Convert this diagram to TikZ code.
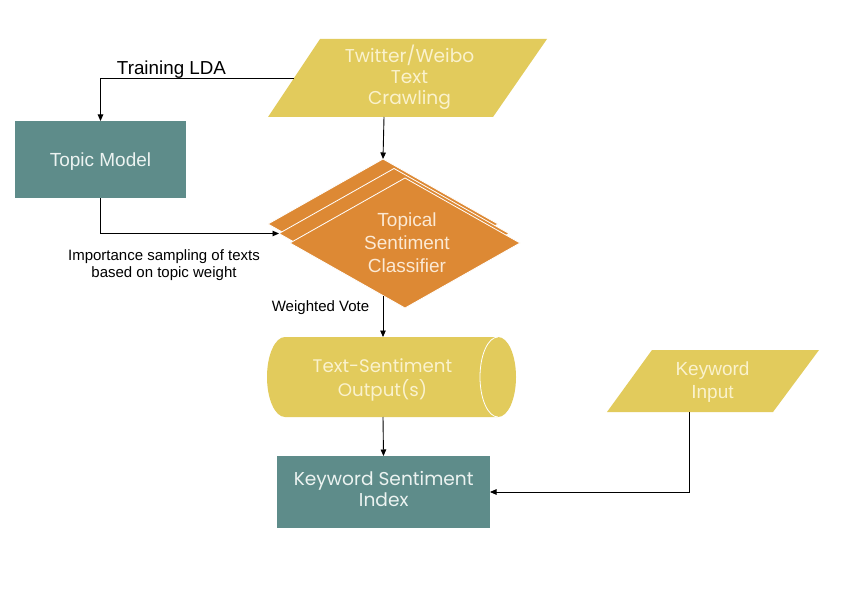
\documentclass[tikz,border=0pt]{standalone}
\usepackage{fontspec}
\setmainfont{Liberation Sans}
\newfontfamily\gothic{Poppins}
\usetikzlibrary{arrows.meta}
\definecolor{yelF}{RGB}{226,203,92}
\definecolor{oraF}{RGB}{221,137,52}
\definecolor{teaF}{RGB}{94,140,138}
\definecolor{yelT}{RGB}{250,242,205}
\definecolor{teaT}{RGB}{236,243,241}
\definecolor{oraT}{RGB}{251,233,212}
\tikzset{
  conn/.style={draw=black, line width=0.9bp, -{Triangle[length=6.5bp,width=5.5bp]}},
  lbl/.style={font=\fontsize{15bp}{16.7bp}\selectfont, align=center, inner sep=0pt},
  biglbl/.style={font=\fontsize{18.8bp}{22bp}\selectfont, inner sep=0pt},
  hv/.style={font=\fontsize{19bp}{23bp}\selectfont, align=center, inner sep=0pt},
  goth/.style={font=\gothic\fontsize{18.6bp}{21bp}\selectfont, align=center, inner sep=0pt},
  tealbox/.style={fill=teaF, draw=none, inner sep=0pt, outer sep=0pt},
  diashape/.style={fill=oraF, draw=white, line width=0.8bp},
}
\begin{document}
\begin{tikzpicture}[x=1bp,y=-1bp]
\useasboundingbox[fill=white] (0,0) rectangle (841,595);

% Twitter/Weibo parallelogram
\fill[yelF] (320,39) -- (547,39) -- (493,117) -- (268,117) -- cycle;
\node[goth, text=yelT] (tw) at (409.5,77) {Twitter/Weibo\\Text\\Crawling};
\coordinate (twL) at (294,78);
\coordinate (twS) at (384,117);

% Topic Model
\node[tealbox, minimum width=171bp, minimum height=77bp] (tm) at (100.5,159.5) {};
\node[hv, text=teaT, text depth=0pt] (tmT) at (100.5,159.5) {Topic Model};

% Classifier stack of diamonds
\filldraw[diashape] (383,159) -- (498,224) -- (383,289) -- (268,224) -- cycle;
\filldraw[diashape] (394,168.5) -- (509,233.5) -- (394,298.5) -- (279,233.5) -- cycle;
\filldraw[diashape] (405,178) -- (520,243) -- (405,308) -- (290,243) -- cycle;
\node[hv, text=oraT] (cls) at (407,243) {Topical\\Sentiment\\Classifier};
\coordinate (clsN) at (383,159);
\coordinate (clsL) at (279,233.5);
\coordinate (clsS) at (383,296);

% Text-Sentiment output (horizontal cylinder)
\fill[yelF] (285,337) -- (498,337)
  .. controls (507.94,337) and (516,354.9) .. (516,377)
  .. controls (516,399.1) and (507.94,417) .. (498,417)
  -- (285,417)
  .. controls (275.06,417) and (267,399.1) .. (267,377)
  .. controls (267,354.9) and (275.06,337) .. (285,337) -- cycle;
\draw[white, line width=0.8bp] (498,337)
  .. controls (488.06,337) and (480,354.9) .. (480,377)
  .. controls (480,399.1) and (488.06,417) .. (498,417);
\node[goth, text=yelT, font=\gothic\fontsize{18.2bp}{23.4bp}\selectfont] (out) at (382.5,380) {Text-Sentiment\\Output(s)};
\coordinate (outN) at (383,337);
\coordinate (outS) at (383,417);

% Keyword Sentiment Index
\node[tealbox, minimum width=213bp, minimum height=72bp] (ksi) at (383.5,492) {};
\node[goth, text=teaT, font=\gothic\fontsize{18.6bp}{20.7bp}\selectfont] (ksiT) at (383.7,489.3) {Keyword Sentiment\\Index};

% Keyword Input parallelogram
\fill[yelF] (652,350) -- (819,350) -- (773,412) -- (607,412) -- cycle;
\node[hv, text=yelT] (ki) at (712.5,382) {Keyword\\Input};
\coordinate (kiS) at (689,412);

% connectors
\draw[conn] (twL) -| (tm.north);
\draw[conn] (twS) -- (clsN);
\draw[conn] (tm.south) |- (clsL);
\draw[conn] (clsS) -- (outN);
\draw[conn] (outS) -- (ksi.north);
\draw[conn] (kiS) |- (ksi.east);

% labels
\node[biglbl, anchor=base] (lda) at (171.5,75) {Training LDA};
\node[lbl] (imp) at (164,265) {Importance sampling of texts\\based on topic weight};
\node[lbl, anchor=base] (wv) at (320.5,311) {Weighted Vote};
\end{tikzpicture}
\end{document}
